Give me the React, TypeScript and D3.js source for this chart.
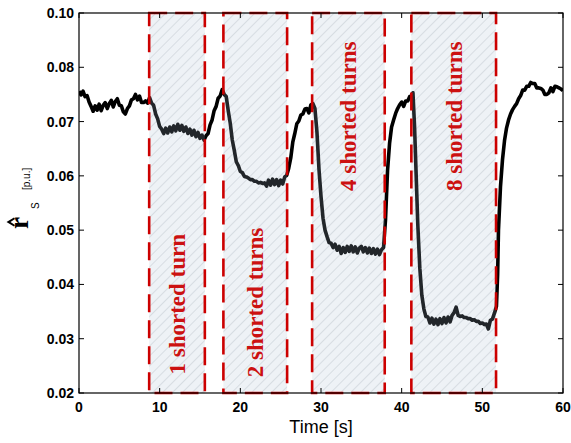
import React from "react";
import { scaleLinear, line } from "d3";

// fault windows [start, end] in seconds
const faultWindows = [
  [8.7, 15.6],
  [17.9, 25.8],
  [28.9, 37.9],
  [41.2, 51.7],
];
const faultLabels = ["1 shorted turn", "2 shorted turns", "4 shorted turns", "8 shorted turns"];
// label anchor (bottom end of rotated text), value units on y
const labelBottom = [0.0234, 0.0229, 0.0572, 0.0572];

const xTicks = [0, 10, 20, 30, 40, 50, 60];
const yTicks = [0.02, 0.03, 0.04, 0.05, 0.06, 0.07, 0.08, 0.09];
const yTickLabels = ["0.02", "0.03", "0.04", "0.05", "0.06", "0.07", "0.08", "0.10"];

// estimated stator resistance trace [t, r_s]
const rsTrace: [number, number][] = [
  [0, 0.0756], [0.25, 0.0749], [0.5, 0.0756], [0.75, 0.0746], [1.0, 0.0748], [1.25, 0.0736],
  [1.5, 0.0728], [1.75, 0.0719], [2.0, 0.0729], [2.25, 0.0721], [2.5, 0.0732], [2.75, 0.072],
  [3.0, 0.073], [3.25, 0.0735], [3.5, 0.0724], [3.75, 0.0733], [4.0, 0.0739], [4.25, 0.0727],
  [4.5, 0.0737], [4.75, 0.0742], [5.0, 0.073], [5.25, 0.0729], [5.5, 0.0718], [5.75, 0.0714],
  [6.0, 0.0724], [6.25, 0.0729], [6.5, 0.074], [6.75, 0.0742], [7.0, 0.075], [7.25, 0.074],
  [7.5, 0.0747], [7.75, 0.0735], [8.0, 0.0735], [8.25, 0.0738], [8.5, 0.0734], [8.75, 0.0744],
  [9.0, 0.0734], [9.25, 0.073], [9.5, 0.0714], [9.75, 0.0705], [10.0, 0.0691], [10.25, 0.0686],
  [10.5, 0.0678], [10.75, 0.0688], [11.0, 0.0679], [11.25, 0.069], [11.5, 0.0681], [11.75, 0.0692],
  [12.0, 0.0683], [12.25, 0.0695], [12.5, 0.0684], [12.75, 0.0693], [13.0, 0.0682], [13.25, 0.069],
  [13.5, 0.0678], [13.75, 0.0686], [14.0, 0.0675], [14.25, 0.0684], [14.5, 0.0672], [14.75, 0.068],
  [15.0, 0.0669], [15.25, 0.0675], [15.5, 0.0666], [15.75, 0.0674], [16.0, 0.0678], [16.25, 0.0694],
  [16.5, 0.0703], [16.75, 0.072], [17.0, 0.0728], [17.25, 0.0743], [17.5, 0.0747], [17.75, 0.0759],
  [18.0, 0.075], [18.25, 0.0746], [18.5, 0.072], [18.75, 0.0697], [19.0, 0.0666], [19.25, 0.0647],
  [19.5, 0.0626], [19.75, 0.0619], [20.0, 0.0608], [20.25, 0.0606], [20.5, 0.0599], [20.75, 0.0598],
  [21.0, 0.0596], [21.25, 0.0593], [21.5, 0.0593], [21.75, 0.059], [22.0, 0.059], [22.25, 0.0587],
  [22.5, 0.0588], [22.75, 0.0586], [23.0, 0.0587], [23.25, 0.0581], [23.5, 0.0592], [23.75, 0.0583],
  [24.0, 0.0594], [24.25, 0.0584], [24.5, 0.0593], [24.75, 0.0582], [25.0, 0.0592], [25.25, 0.0585],
  [25.5, 0.0598], [25.75, 0.0601], [26.0, 0.0614], [26.25, 0.0633], [26.5, 0.0662], [26.75, 0.0678],
  [27.0, 0.0696], [27.25, 0.0701], [27.5, 0.0712], [27.75, 0.0714], [28.0, 0.0723], [28.25, 0.0724],
  [28.5, 0.0716], [28.75, 0.0731], [29.0, 0.0733], [29.25, 0.0724], [29.5, 0.068], [29.75, 0.0612],
  [30.0, 0.0562], [30.25, 0.0522], [30.5, 0.05], [30.75, 0.0488], [31.0, 0.0477], [31.25, 0.0476],
  [31.5, 0.0468], [31.75, 0.0474], [32.0, 0.0463], [32.25, 0.047], [32.5, 0.0457], [32.75, 0.0468],
  [33.0, 0.0459], [33.25, 0.047], [33.5, 0.0461], [33.75, 0.0471], [34.0, 0.046], [34.25, 0.0469],
  [34.5, 0.0458], [34.75, 0.0467], [35.0, 0.047], [35.25, 0.046], [35.5, 0.0468], [35.75, 0.0458],
  [36.0, 0.0467], [36.25, 0.0457], [36.5, 0.0466], [36.75, 0.0456], [37.0, 0.0465], [37.25, 0.0455],
  [37.5, 0.0464], [37.75, 0.0468], [38.0, 0.052], [38.25, 0.061], [38.5, 0.066], [38.75, 0.069],
  [39.0, 0.0703], [39.25, 0.0715], [39.5, 0.0724], [39.75, 0.0731], [40.0, 0.0736], [40.25, 0.0728],
  [40.5, 0.0738], [40.75, 0.0738], [41.0, 0.0746], [41.25, 0.0747], [41.4, 0.0753], [41.6, 0.069],
  [41.8, 0.06], [42.0, 0.051], [42.25, 0.043], [42.5, 0.038], [42.75, 0.0355], [43.0, 0.0341],
  [43.25, 0.034], [43.5, 0.0329], [43.75, 0.0338], [44.0, 0.0327], [44.25, 0.0336], [44.5, 0.0326],
  [44.75, 0.0337], [45.0, 0.0328], [45.25, 0.0339], [45.5, 0.0329], [45.75, 0.034], [46.0, 0.0331],
  [46.25, 0.0343], [46.5, 0.0348], [46.75, 0.0358], [47.0, 0.0343], [47.25, 0.0341], [47.5, 0.0342],
  [47.75, 0.0339], [48.0, 0.0339], [48.25, 0.0337], [48.5, 0.0337], [48.75, 0.0334], [49.0, 0.0335],
  [49.25, 0.0332], [49.5, 0.0332], [49.75, 0.0328], [50.0, 0.0329], [50.25, 0.0326], [50.5, 0.0327],
  [50.75, 0.0318], [51.0, 0.0334], [51.25, 0.0336], [51.5, 0.0347], [51.75, 0.036], [51.9, 0.042],
  [52.0, 0.05], [52.25, 0.058], [52.5, 0.063], [52.75, 0.0665], [53.0, 0.0688], [53.25, 0.0703],
  [53.5, 0.0714], [53.75, 0.0722], [54.0, 0.0728], [54.25, 0.0733], [54.5, 0.0742], [54.75, 0.0748],
  [55.0, 0.0758], [55.25, 0.0758], [55.5, 0.0765], [55.75, 0.0765], [56.0, 0.0772], [56.25, 0.077],
  [56.5, 0.077], [56.75, 0.0762], [57.0, 0.0762], [57.25, 0.0761], [57.5, 0.0758], [57.75, 0.075],
  [58.0, 0.075], [58.25, 0.0753], [58.5, 0.0762], [58.75, 0.0755], [59.0, 0.0765], [59.25, 0.0764],
  [59.5, 0.0762], [59.75, 0.076], [60.0, 0.0757],
];

const W = 571;
const H = 443;
const margin = { left: 79, right: 8, top: 13, bottom: 50 };

export default function App() {
  const x = scaleLinear().domain([0, 60]).range([margin.left, W - margin.right]);
  const y = scaleLinear().domain([0.02, 0.09]).range([H - margin.bottom, margin.top]);
  const [x0, x1] = x.range();
  const [y0, y1] = y.range(); // y0 bottom, y1 top

  const path = line<[number, number]>()
    .x(d => x(d[0]))
    .y(d => y(d[1]))(rsTrace);

  const red = "#cc0000";
  const tick = 5;

  return (
    <svg
      width={W}
      height={H}
      style={{ position: "absolute", left: 0, top: 0, background: "#fff" }}
      fontFamily="Arial, 'Liberation Sans', sans-serif"
    >
      <defs>
        <pattern id="hatch" width="7" height="7" patternUnits="userSpaceOnUse" patternTransform="rotate(45)">
          <rect width="7" height="7" fill="#fff" />
          <line x1="0" y1="0" x2="0" y2="7" stroke="#c2c6ca" strokeWidth="0.9" />
        </pattern>
        <clipPath id="plotClip">
          <rect x={x0} y={y1} width={x1 - x0} height={y0 - y1} />
        </clipPath>
      </defs>

      {/* hatched backgrounds */}
      {faultWindows.map((w, i) => (
        <rect key={"bg" + i} x={x(w[0])} y={y1} width={x(w[1]) - x(w[0])} height={y0 - y1} fill="url(#hatch)" />
      ))}

      {/* trace */}
      <path d={path ?? ""} fill="none" stroke="#000" strokeWidth={3.6} strokeLinejoin="round" clipPath="url(#plotClip)" />

      {/* translucent veil + dashed borders over the trace */}
      {faultWindows.map((w, i) => (
        <g key={"box" + i}>
          <rect x={x(w[0])} y={y1} width={x(w[1]) - x(w[0])} height={y0 - y1} fill="rgb(170,190,210)" opacity={0.2} />
          <rect
            x={x(w[0])}
            y={y1}
            width={x(w[1]) - x(w[0])}
            height={y0 - y1}
            fill="none"
            stroke={red}
            strokeWidth={2.6}
            strokeDasharray="18 8"
          />
        </g>
      ))}

      {/* fault labels */}
      {faultWindows.map((w, i) => {
        const cx = (x(w[0]) + x(w[1])) / 2 + 8;
        return (
          <text
            key={"lbl" + i}
            transform={`translate(${cx}, ${y(labelBottom[i])}) rotate(-90)`}
            fontFamily="'Liberation Serif', 'Times New Roman', serif"
            fontWeight="bold"
            fontSize={23}
            fill="#cc1111"
          >
            {faultLabels[i]}
          </text>
        );
      })}

      {/* frame */}
      <rect x={x0} y={y1} width={x1 - x0} height={y0 - y1} fill="none" stroke="#000" strokeWidth={1.2} />

      {/* x ticks */}
      {xTicks.map(t => (
        <g key={"xt" + t}>
          <line x1={x(t)} x2={x(t)} y1={y0} y2={y0 - tick} stroke="#000" strokeWidth={1} />
          <line x1={x(t)} x2={x(t)} y1={y1} y2={y1 + tick} stroke="#000" strokeWidth={1} />
          <text x={x(t)} y={y0 + 19} textAnchor="middle" fontSize={14} fontWeight="bold">
            {t}
          </text>
        </g>
      ))}

      {/* y ticks */}
      {yTicks.map((t, i) => (
        <g key={"yt" + t}>
          <line x1={x0} x2={x0 + tick} y1={y(t)} y2={y(t)} stroke="#000" strokeWidth={1} />
          <line x1={x1} x2={x1 - tick} y1={y(t)} y2={y(t)} stroke="#000" strokeWidth={1} />
          <text x={x0 - 5} y={y(t) + 5} textAnchor="end" fontSize={14} fontWeight="bold">
            {yTickLabels[i]}
          </text>
        </g>
      ))}

      {/* x label */}
      <text x={(x0 + x1) / 2} y={433} textAnchor="middle" fontSize={18}>
        Time [s]
      </text>

      {/* y label: r-hat subscript s [p.u.] */}
      <g transform="translate(28, 229) rotate(-90)">
        <text x={0} y={0} fontFamily="'Liberation Serif', 'Times New Roman', serif" fontWeight="bold" fontSize={27}>
          r
        </text>
        <path d="M2.5,-14 L7,-21.5 L11.5,-14 L10,-13 L7,-17.5 L4,-13 Z" fill="#000" />
        <text x={20} y={11} fontSize={10}>
          S
        </text>
        <text x={39} y={2} fontSize={10}>
          [p.u.]
        </text>
      </g>
    </svg>
  );
}
